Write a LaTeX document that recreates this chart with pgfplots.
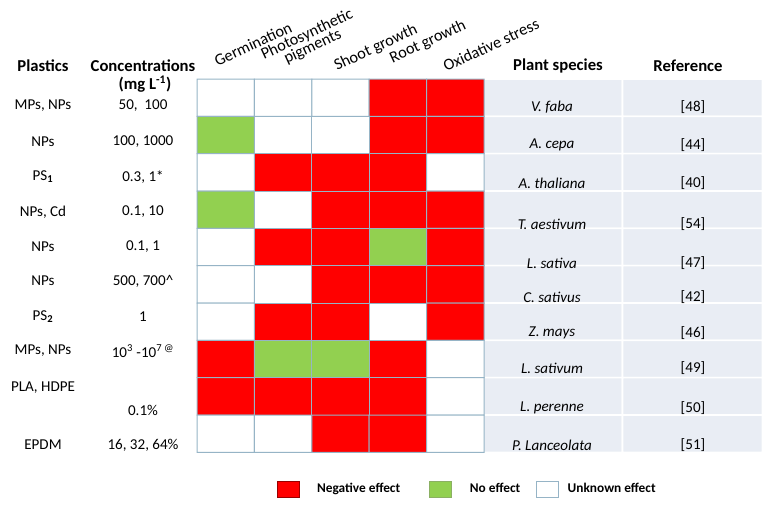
\documentclass[border=0pt]{standalone}
\usepackage{pgfplots}
\pgfplotsset{compat=1.18}
\usepackage{pgfplotstable}
\usepackage{fontspec}
\setmainfont{Carlito}
\definecolor{negred}{RGB}{255,0,0}
\definecolor{noeff}{RGB}{146,208,80}
\definecolor{gridc}{RGB}{150,180,198}
\definecolor{panel}{RGB}{233,237,244}

% 0 = unknown (white), 1 = no effect (green), 2 = negative (red)
\pgfplotstableread{
x y c
225.7 97.67 0
283.1 97.67 0
340.5 97.67 0
397.9 97.67 2
455.3 97.67 2
225.7 135.0 1
283.1 135.0 0
340.5 135.0 0
397.9 135.0 2
455.3 135.0 2
225.7 172.33 0
283.1 172.33 2
340.5 172.33 2
397.9 172.33 2
455.3 172.33 0
225.7 209.67 1
283.1 209.67 0
340.5 209.67 2
397.9 209.67 2
455.3 209.67 2
225.7 247.0 0
283.1 247.0 2
340.5 247.0 2
397.9 247.0 1
455.3 247.0 2
225.7 284.33 0
283.1 284.33 0
340.5 284.33 2
397.9 284.33 2
455.3 284.33 2
225.7 321.67 0
283.1 321.67 2
340.5 321.67 2
397.9 321.67 0
455.3 321.67 2
225.7 359.0 2
283.1 359.0 1
340.5 359.0 1
397.9 359.0 2
455.3 359.0 0
225.7 396.33 2
283.1 396.33 2
340.5 396.33 2
397.9 396.33 2
455.3 396.33 0
225.7 433.67 0
283.1 433.67 0
340.5 433.67 2
397.9 433.67 2
455.3 433.67 0
}\cells

\pgfplotstableread{
x y c
552.5 97.67 3
692.5 97.67 3
552.5 135.0 3
692.5 135.0 3
552.5 172.33 3
692.5 172.33 3
552.5 209.67 3
692.5 209.67 3
552.5 247.0 3
692.5 247.0 3
552.5 284.33 3
692.5 284.33 3
552.5 321.67 3
692.5 321.67 3
552.5 359.0 3
692.5 359.0 3
552.5 396.33 3
692.5 396.33 3
552.5 433.67 3
692.5 433.67 3
}\panelcells

\newcommand{\hd}{\bfseries\fontsize{12.5}{14}\selectfont}
\newcommand{\rw}{\fontsize{11.3}{13}\selectfont}
\newcommand{\ch}{\fontsize{12.2}{13}\selectfont}

\begin{document}
\begin{tikzpicture}
\begin{axis}[
  x=0.75pt, y=0.75pt,
  xmin=0, xmax=772, ymin=0, ymax=507,
  y dir=reverse,
  axis lines=none, clip=false,
  colormap={effects}{rgb255=(255,255,255) rgb255=(146,208,80) rgb255=(255,0,0) rgb255=(233,237,244)},
  colormap access=direct,
  legend style={at={(axis cs:273,489)}, anchor=west, draw=none, fill=none,
    legend columns=-1, font=\bfseries\fontsize{10}{12}\selectfont,
    /tikz/column 1/.style={column sep=11pt},
    /tikz/column 2/.style={column sep=19.7pt},
    /tikz/column 3/.style={column sep=11.7pt},
    /tikz/column 4/.style={column sep=10.2pt},
    /tikz/column 5/.style={column sep=4.5pt}},
  legend image code/.code={\draw[#1] (0pt,-6pt) rectangle (16.5pt,6pt);},
]
\addplot[draw=none, forget plot] coordinates {(0,0) (772,507)};
\addplot[matrix plot*, mesh/cols=2, point meta=explicit, draw=white, line width=1.2pt, forget plot]
  table[x=x, y=y, meta=c] {\panelcells};
\addplot[matrix plot*, mesh/cols=5, point meta=explicit, draw=gridc, line width=0.75pt, forget plot]
  table[x=x, y=y, meta=c] {\cells};

\addlegendimage{fill=negred, draw=red!60!black}
\addlegendentry{Negative effect}
\addlegendimage{fill=noeff, draw=noeff!60!gray}
\addlegendentry{No effect}
\addlegendimage{fill=white, draw=gridc}
\addlegendentry{Unknown effect}

% headers
\node[font=\hd] at (43,66) {Plastics};
\node[font=\hd] at (143,66) {Concentrations};
\node[font=\hd] at (145,84) {(mg L\textsuperscript{-1})};
\node[font=\hd] at (558,66) {Plant species};
\node[font=\hd] at (688,66) {Reference};

\node[font=\ch, rotate=25] at (253,44) {Germination};
\node[font=\ch, rotate=25, align=center] at (310,41) {Photosynthetic\\[-3pt]pigments};
\node[font=\ch, rotate=25] at (376,48) {Shoot growth};
\node[font=\ch, rotate=25] at (428,42) {Root growth};
\node[font=\ch, rotate=25] at (491,45) {Oxidative stress};

% plastics
\node[font=\rw] at (43,106) {MPs, NPs};
\node[font=\rw] at (43,142) {NPs};
\node[font=\rw] at (43,177) {PS\textsubscript{\textbf{1}}};
\node[font=\rw] at (43,212) {NPs, Cd};
\node[font=\rw] at (43,247) {NPs};
\node[font=\rw] at (43,281) {NPs};
\node[font=\rw] at (43,317) {PS\textsubscript{\textbf{2}}};
\node[font=\rw] at (43,351) {MPs, NPs};
\node[font=\rw] at (43,388) {PLA, HDPE};
\node[font=\rw] at (43,445) {EPDM};

% concentrations
\node[font=\rw] at (143,106) {50,\ \ 100};
\node[font=\rw] at (143,142) {100, 1000};
\node[font=\rw] at (143,177) {0.3, 1*};
\node[font=\rw] at (143,212) {0.1, 10};
\node[font=\rw] at (143,247) {0.1, 1};
\node[font=\rw] at (143,281) {500, 700\^{}};
\node[font=\rw] at (143,317) {1};
\node[font=\rw] at (143,351) {10\textsuperscript{3} -10\textsuperscript{7 @}};
\node[font=\rw] at (143,410) {0.1\%};
\node[font=\rw] at (143,445) {16, 32, 64\%};

% species
\node[font=\rw\itshape] at (552,107) {V. faba};
\node[font=\rw\itshape] at (552,145) {A. cepa};
\node[font=\rw\itshape] at (552,183) {A. thaliana};
\node[font=\rw\itshape] at (552,224) {T. aestivum};
\node[font=\rw\itshape] at (552,263) {L. sativa};
\node[font=\rw\itshape] at (552,297) {C. sativus};
\node[font=\rw\itshape] at (552,333) {Z. mays};
\node[font=\rw\itshape] at (552,368) {L. sativum};
\node[font=\rw\itshape] at (552,408) {L. perenne};
\node[font=\rw\itshape] at (552,445) {P. Lanceolata};

% references
\node[font=\rw] at (693,107) {[48]};
\node[font=\rw] at (693,145) {[44]};
\node[font=\rw] at (693,183) {[40]};
\node[font=\rw] at (693,224) {[54]};
\node[font=\rw] at (693,263) {[47]};
\node[font=\rw] at (693,297) {[42]};
\node[font=\rw] at (693,333) {[46]};
\node[font=\rw] at (693,368) {[49]};
\node[font=\rw] at (693,408) {[50]};
\node[font=\rw] at (693,445) {[51]};
\end{axis}
\end{tikzpicture}
\end{document}
